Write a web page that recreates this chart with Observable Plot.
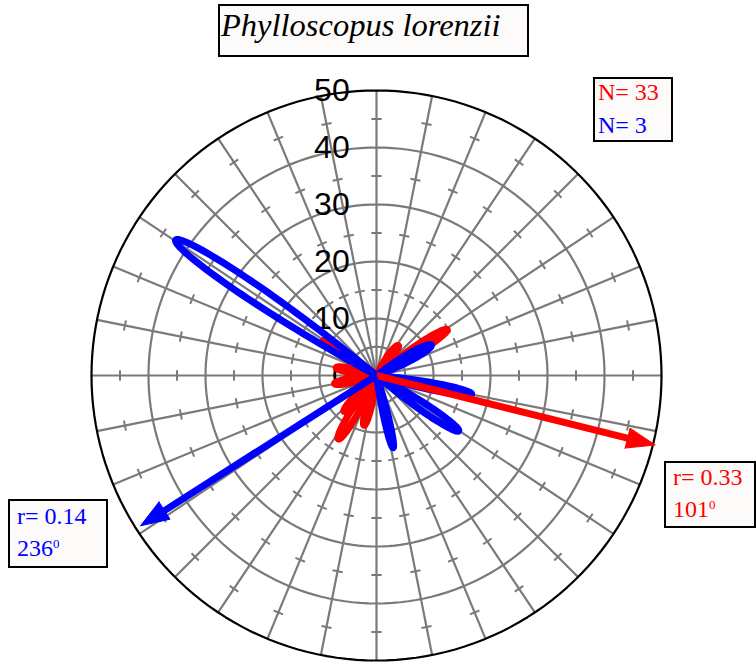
<!DOCTYPE html>
<html><head><meta charset="utf-8">
<script src="https://cdn.jsdelivr.net/npm/d3@7"></script>
<script src="https://cdn.jsdelivr.net/npm/@observablehq/plot@0.6"></script>
<style>
body{margin:0;background:#fff;}
#wrap{position:relative;width:756px;height:668px;overflow:hidden;background:#fff;}
#wrap svg{position:absolute;left:0;top:0;}
.box{position:absolute;box-sizing:border-box;border:2px solid #000;background:#fcfbf9;}
.txt{position:absolute;white-space:nowrap;font-family:"Liberation Serif","Times New Roman",serif;}
.sup{position:relative;top:-8px;font-size:13px;}
</style></head><body><div id="wrap"></div>
<script>
// ---- data ----
const titleText = "Phylloscopus lorenzii";
const groupColors = ["#ff0000", "#0000ff"];
const groupN = [33, 3];
const meanR = [0.33, 0.14];
const meanDirLabel = [101, 236];
const arrowBearing = [104, 237.5];
const arrowLength = [50.4, 49.1];
const ringValues = [10, 20, 30, 40];
const ringLabels = [0, 10, 20, 30, 40, 50];
const outerRadius = 50;
const spokeCount = 32;
const tickRadii = [5, 15, 25, 35, 45];
const redBearing = [57, 36, 303, 281, 259, 211, 222, 194];
const redLength = [14.8, 6.5, 11.2, 7.2, 7.5, 13, 8.5, 9];
const redSpread = [7, 11, 7, 9, 9, 8, 9, 8];
const blueBearing = [304, 61, 101, 124, 167];
const blueLength = [42.5, 11, 17, 17.4, 13];
const blueSpread = [5.5, 9, 6, 6.5, 5];

// ---- helpers (geometry built from the data) ----
const rad = d => d * Math.PI / 180;
function petalPts(b, L, s, id) {
  const k = 90 / s, n = 80, pts = [];
  for (let i = 0; i <= n; i++) {
    const phi = -s + 2 * s * i / n;
    const r = L * Math.cos(rad(k * phi));
    const th = rad(b + phi);
    pts.push({id, x: r * Math.sin(th), y: r * Math.cos(th)});
  }
  return pts;
}
const redPetals = redBearing.flatMap((b, i) => petalPts(b, redLength[i], redSpread[i], "r" + i));
const bluePetals = blueBearing.flatMap((b, i) => petalPts(b, blueLength[i], blueSpread[i], "b" + i));

function circlePts(r, id) {
  return d3.range(0, 361, 2).map(a => ({id, x: r * Math.sin(rad(a)), y: r * Math.cos(rad(a))}));
}
const rings = ringValues.flatMap(r => circlePts(r, "c" + r));
const outer = circlePts(outerRadius, "outer");
const spokes = d3.range(spokeCount).map(i => i * 360 / spokeCount);
const tickHalf = 0.9;
const ticks = spokes.flatMap(a => tickRadii.map(r => ({a, r})));

const headLen = 5, headHalf = 1.8;
function arrowShaft(g) {
  const th = rad(arrowBearing[g]), L = arrowLength[g] - headLen + 0.5;
  return {x1: 0, y1: 0, x2: L * Math.sin(th), y2: L * Math.cos(th)};
}
function arrowHead(g) {
  const th = rad(arrowBearing[g]), L = arrowLength[g], B = L - headLen;
  const px = Math.cos(th), py = -Math.sin(th);
  const bx = B * Math.sin(th), by = B * Math.cos(th);
  return [
    {x: bx + headHalf * px, y: by + headHalf * py},
    {x: L * Math.sin(th), y: L * Math.cos(th)},
    {x: bx - headHalf * px, y: by - headHalf * py},
    {x: bx + headHalf * px, y: by + headHalf * py}
  ];
}

const gray = "#7a7a7a";
const chart = Plot.plot({
  width: 756, height: 668,
  marginLeft: 91, marginRight: 95, marginTop: 90, marginBottom: 8,
  x: {domain: [-50, 50], axis: null},
  y: {domain: [-50, 50], axis: null},
  style: {background: "transparent", overflow: "visible"},
  marks: [
    Plot.link(spokes, {x1: () => 0, y1: () => 0,
      x2: a => outerRadius * Math.sin(rad(a)), y2: a => outerRadius * Math.cos(rad(a)),
      stroke: gray, strokeWidth: 2.2}),
    Plot.line(rings, {x: "x", y: "y", z: "id", stroke: gray, strokeWidth: 2.2}),
    Plot.link(ticks, {
      x1: d => d.r * Math.sin(rad(d.a)) + tickHalf * Math.cos(rad(d.a)),
      y1: d => d.r * Math.cos(rad(d.a)) - tickHalf * Math.sin(rad(d.a)),
      x2: d => d.r * Math.sin(rad(d.a)) - tickHalf * Math.cos(rad(d.a)),
      y2: d => d.r * Math.cos(rad(d.a)) + tickHalf * Math.sin(rad(d.a)),
      stroke: gray, strokeWidth: 2}),
    Plot.line(outer, {x: "x", y: "y", stroke: "#000", strokeWidth: 2.2}),
    Plot.text(ringLabels, {x: () => -4.7, y: d => d, text: d => String(d),
      textAnchor: "end", fontSize: 32, fill: "#000",
      fontFamily: "'Liberation Sans', Arial, sans-serif"}),
    Plot.line(redPetals, {x: "x", y: "y", z: "id", stroke: groupColors[0], strokeWidth: 7,
      strokeLinejoin: "round", strokeLinecap: "round"}),
    Plot.line(bluePetals, {x: "x", y: "y", z: "id", stroke: groupColors[1], strokeWidth: 7,
      strokeLinejoin: "round", strokeLinecap: "round"}),
    Plot.link([arrowShaft(0)], {x1: "x1", y1: "y1", x2: "x2", y2: "y2",
      stroke: groupColors[0], strokeWidth: 7}),
    Plot.line(arrowHead(0), {x: "x", y: "y", fill: groupColors[0], stroke: groupColors[0], strokeWidth: 1}),
    Plot.link([arrowShaft(1)], {x1: "x1", y1: "y1", x2: "x2", y2: "y2",
      stroke: groupColors[1], strokeWidth: 7}),
    Plot.line(arrowHead(1), {x: "x", y: "y", fill: groupColors[1], stroke: groupColors[1], strokeWidth: 1})
  ]
});
const wrap = document.getElementById("wrap");
wrap.appendChild(chart);

function addBox(l, t, w, h) {
  const d = document.createElement("div");
  d.className = "box";
  Object.assign(d.style, {left: l + "px", top: t + "px", width: w + "px", height: h + "px"});
  wrap.appendChild(d);
}
function addText(html, l, baseline, size, color, italic) {
  const d = document.createElement("div");
  d.className = "txt";
  d.innerHTML = html;
  Object.assign(d.style, {left: l + "px", top: (baseline - 0.8375 * size) + "px",
    fontSize: size + "px", lineHeight: size + "px", color,
    fontStyle: italic ? "italic" : "normal"});
  wrap.appendChild(d);
}
addBox(218, 4, 311, 53);
addText(titleText, 221, 36, 32.5, "#000", true);
addBox(593, 77, 80, 65);
addText("N= " + groupN[0], 598, 100, 24, groupColors[0]);
addText("N= " + groupN[1], 598, 133, 24, groupColors[1]);
addBox(664, 461, 92, 67);
addText("r= " + meanR[0].toFixed(2), 673, 485, 24, groupColors[0]);
addText(meanDirLabel[0] + '<span class="sup">0</span>', 673, 517, 24, groupColors[0]);
addBox(8, 499, 100, 69);
addText("r= " + meanR[1].toFixed(2), 17, 524, 24, groupColors[1]);
addText(meanDirLabel[1] + '<span class="sup">0</span>', 17, 556, 24, groupColors[1]);
</script></body></html>
